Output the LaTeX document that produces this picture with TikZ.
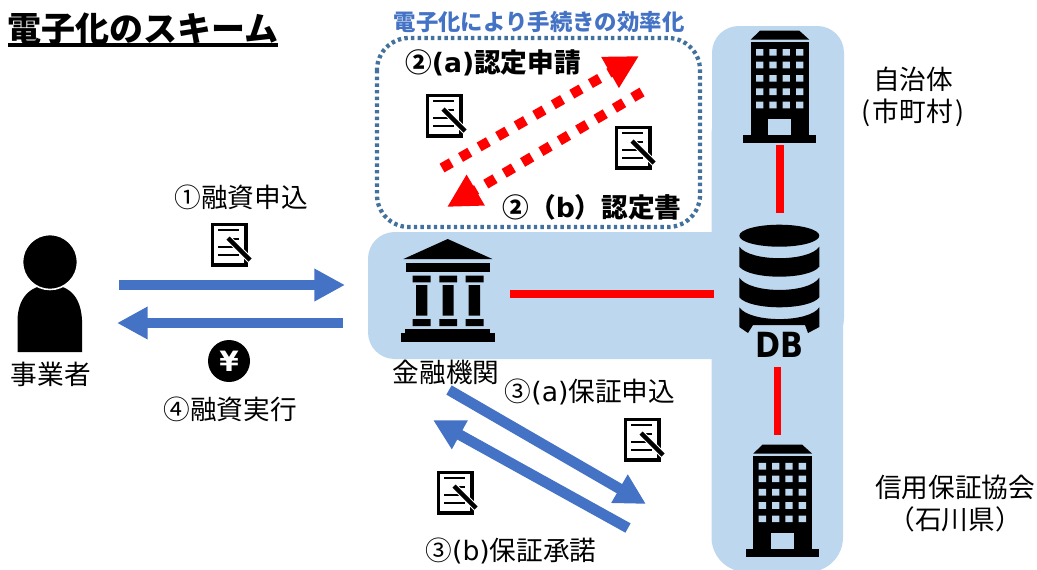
\documentclass[tikz,border=0pt]{standalone}
\usepackage{fontspec}
\setmainfont{Noto Sans CJK JP}
\newfontfamily\latfont{DejaVu Sans}
\newfontfamily\dbfont[FakeStretch=0.87]{DejaVu Sans}
\usetikzlibrary{arrows.meta}

\definecolor{regionblue}{HTML}{BDD7EE}
\definecolor{arrowblue}{HTML}{4472C4}
\definecolor{dotblue}{HTML}{41719C}

\tikzset{
    jplabel/.style={inner sep=0pt, font=\fontsize{20}{24}\selectfont},
    jpbold/.style={inner sep=0pt, font=\fontsize{20}{24}\selectfont\bfseries},
    region/.style={fill=regionblue, rounded corners=20},
    flowarrow/.style={draw=arrowblue, line width=8pt, -{Triangle[length=23pt,width=23pt]}},
    redlink/.style={draw=red, line width=5.6pt},
    redflow/.style={draw=red, line width=7.5pt, dash pattern=on 8pt off 8pt, -{Triangle[length=25pt,width=25pt]}},
    pics/docicon/.style={code={
        \draw[line width=2.6pt, fill=white] (1.5,1.5) rectangle (35,42);
        \draw[line width=1.5pt] (7,7) -- (28,7);
        \draw[line width=1.5pt] (15,16) -- (28,16);
        \draw[line width=1.5pt] (7,24) -- (28,24);
        \draw[line width=1.5pt] (7,32) -- (28,32);
        \draw[white, line width=5pt] (16,14) -- (39,37);
        \draw[line width=3.2pt] (17,15) -- (39,37);
    }},
    pics/towericon/.style={code={
        \fill (7.3,9) -- (16.7,0) -- (56,0) -- (66,9) -- cycle;
        \fill (7.3,11) rectangle (66,104);
        \fill (0,104) rectangle (72.7,112);
        \fill[regionblue] (12.7,18.3) rectangle +(7.3,6.7) (26,18.3) rectangle +(7.3,6.7) (39.3,18.3) rectangle +(7.3,6.7) (52.7,18.3) rectangle +(7.3,6.7);
        \fill[regionblue] (12.7,31) rectangle +(7.3,6.7) (26,31) rectangle +(7.3,6.7) (39.3,31) rectangle +(7.3,6.7) (52.7,31) rectangle +(7.3,6.7);
        \fill[regionblue] (12.7,44.3) rectangle +(7.3,6.7) (26,44.3) rectangle +(7.3,6.7) (39.3,44.3) rectangle +(7.3,6.7) (52.7,44.3) rectangle +(7.3,6.7);
        \fill[regionblue] (12.7,57.7) rectangle +(7.3,6.7) (26,57.7) rectangle +(7.3,6.7) (39.3,57.7) rectangle +(7.3,6.7) (52.7,57.7) rectangle +(7.3,6.7);
        \fill[regionblue] (12.7,71) rectangle +(7.3,6.7) (26,71) rectangle +(7.3,6.7) (39.3,71) rectangle +(7.3,6.7) (52.7,71) rectangle +(7.3,6.7);
        \fill[regionblue] (25,88.3) rectangle (48,104);
    }},
    pics/bankicon/.style={code={
        \fill (2.7,20) -- (47,0) -- (91.7,20) -- cycle;
        \fill (5.3,24.3) rectangle (89.3,33.3);
        \fill (12,36.7) rectangle (30,43.3) (38.7,36.7) rectangle (56.3,43.3) (65,36.7) rectangle (83,43.3);
        \fill (15.3,46) rectangle (26.7,76.7) (42,46) rectangle (53,76.7) (68,46) rectangle (79.3,76.7);
        \fill (12,80) rectangle (30,87) (38.7,80) rectangle (56.3,87) (65,80) rectangle (83,87);
        \fill (4.3,90.3) rectangle (89.3,94.3);
        \fill (0,94.3) rectangle (94.3,103.3);
    }},
    pics/dbicon/.style={code={
        \fill (69.3,25.7) ellipse [x radius=40, y radius=11];
        \fill (29.3,36.7) .. controls (40,52) and (99,52) .. (109.3,36.7) -- (109.3,56.7)
            .. controls (99,70) and (40,70) .. (29.3,56.7) -- cycle;
        \fill (29.3,67.7) .. controls (40,84) and (99,84) .. (109.3,67.7) -- (109.3,87.3)
            .. controls (99,100.6) and (40,100.6) .. (29.3,87.3) -- cycle;
        \fill (29.3,97.3) .. controls (40,113) and (99,113) .. (109.3,97.3) -- (109.3,117)
            -- (98,123) -- (95,115) -- (43,115) -- (38,123) -- (29.3,117) -- cycle;
    }},
}

\begin{document}
\begin{tikzpicture}[x=0.75pt,y=-0.75pt]
        \useasboundingbox (0,0) rectangle (1037,569);

        % blue areas
        \fill[region] (712,26) rectangle (844,345);
        \fill[region, rounded corners=26] (711.5,100) rectangle (843,572);
        \fill[region] (368,232) rectangle (790,359);

        % titles
        \node[inner sep=0pt, font=\fontsize{25.5}{30}\selectfont\bfseries] (title) at (143,29) {電子化のスキーム};
        \node[inner sep=0pt, text=arrowblue, font=\fontsize{16.8}{20}\selectfont\bfseries] (subtitle) at (539,22) {電子化により手続きの効率化};
        \coordinate (titleleft) at (8,45);
        \coordinate (titleright) at (278,45);
        \draw[line width=2.4pt] (titleleft) -- (titleright);

        % dotted frame
        \draw[draw=dotblue, line width=3.2pt, dash pattern=on 2.6pt off 2.4pt, rounded corners=24] (377,38) rectangle (700,227);

        % icons
        \fill (17.5,352) -- (17.5,320) .. controls (18,300) and (28,285) .. (50,285)
            .. controls (72,285) and (81,300) .. (82,320) -- (82,352) -- cycle;
        \filldraw[draw=white, line width=1.2pt] (50,262) circle (27.5);
        \pic at (743.3,30.7) {towericon};
        \pic at (746,444.5) {towericon};
        \pic at (400.7,239) {bankicon};
        \pic at (710,210) {dbicon};
        \pic at (426,94) {docicon};
        \pic at (615,126) {docicon};
        \pic at (211,223) {docicon};
        \pic at (624,418) {docicon};
        \pic at (437,471) {docicon};
        \fill (229,361) circle (21);
        \node[inner sep=0pt, text=white, font=\fontsize{21}{24}\selectfont\bfseries] (yen) at (229,361) {\latfont ¥};
        \node[inner sep=0pt, font=\fontsize{26}{30}\selectfont\bfseries] (dblabel) at (779,345) {\dbfont DB};

        % connector ends
        \coordinate (towertop) at (780,145);
        \coordinate (dbtop) at (780,213);
        \coordinate (dbbottom) at (777.5,367);
        \coordinate (towerbottom) at (777.5,435);
        \coordinate (bankright) at (510,294);
        \coordinate (dbleft) at (714,294);

        \coordinate (loanfrom) at (119,285);
        \coordinate (loanto) at (345,285);
        \coordinate (payfrom) at (343,323);
        \coordinate (payto) at (117,323);
        \coordinate (applyfrom) at (449,390);
        \coordinate (applyto) at (646,504);
        \coordinate (acceptfrom) at (628,528);
        \coordinate (acceptto) at (433,420);
        \coordinate (certfrom) at (442,168);
        \coordinate (certto) at (639,56);
        \coordinate (backfrom) at (642,92);
        \coordinate (backto) at (447,207);

        % connectors
        \draw[redlink] (towertop) -- (dbtop);
        \draw[redlink] (dbbottom) -- (towerbottom);
        \draw[redlink] (bankright) -- (dbleft);
        \draw[flowarrow] (loanfrom) -- (loanto);
        \draw[flowarrow] (payfrom) -- (payto);
        \draw[flowarrow] (applyfrom) -- (applyto);
        \draw[flowarrow] (acceptfrom) -- (acceptto);
        \draw[redflow] (certfrom) -- (certto);
        \draw[redflow] (backfrom) -- (backto);

        % labels
        \node[jpbold] (certapply) at (493,63) {②{\latfont (a)}認定申請};
        \node[jpbold] (certissue) at (592,207) {②（{\latfont b}）認定書};
        \node[jplabel] (loanapply) at (241,197) {①融資申込};
        \node[jplabel] (owner) at (51,374) {事業者};
        \node[jplabel] (loanpay) at (230,409) {④融資実行};
        \node[jplabel] (bank) at (446,372) {金融機関};
        \node[jplabel] (guaranteeapply) at (590,392) {③{\latfont (a)}保証申込};
        \node[jplabel] (guaranteeok) at (511,551) {③{\latfont (b)}保証承諾};
        \node[jplabel, align=center] (city) at (913,97) {自治体\\(\kern2pt 市町村\kern2pt)};
        \node[jplabel, align=center] (assoc) at (955,504) {信用保証協会\\（石川県）};
\end{tikzpicture}
\end{document}
